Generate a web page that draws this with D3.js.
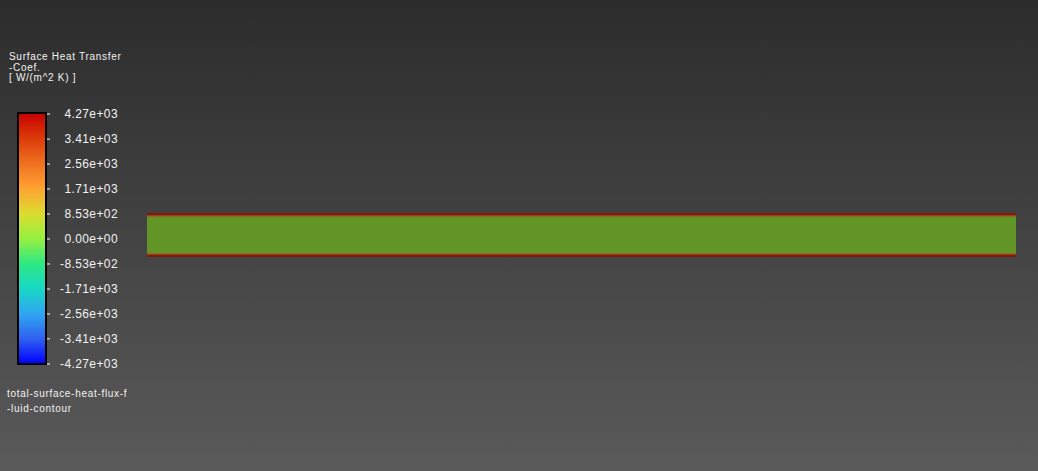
<!DOCTYPE html>
<html>
<head>
<meta charset="utf-8">
<script src="https://cdn.jsdelivr.net/npm/d3@7"></script>
<style>
  html, body { margin: 0; padding: 0; background: #3a3a3a; overflow: hidden; }
  svg { display: block; }
  text { font-family: "Liberation Sans", Arial, sans-serif; fill: #f2f2f2; }
</style>
</head>
<body>
<svg id="view"></svg>
<script>
// Contour legend + flat channel wall coloured by surface heat transfer coef.

const W = 1038, H = 471;

// legend data
const titleLines = ["Surface Heat Transfer", "-Coef.", "[ W/(m^2 K) ]"];
const footerLines = ["total-surface-heat-flux-f", "-luid-contour"];
const tickValues = [4270, 3410, 2560, 1710, 853, 0, -853, -1710, -2560, -3410, -4270];
const tickLabels = ["4.27e+03", "3.41e+03", "2.56e+03", "1.71e+03", "8.53e+02", "0.00e+00",
                    "-8.53e+02", "-1.71e+03", "-2.56e+03", "-3.41e+03", "-4.27e+03"];
// colormap stops, from min to max
const cmapStops = ["#0000ff", "#3060f2", "#30a6f0", "#18d8c6", "#2ee882", "#96f040",
                   "#dcdc30", "#ffa232", "#f07020", "#dc3a0a", "#c80000"];

// geometry of the wall strip (channel length / height, metres)
const channelLength = [0, 1.0];
const channelHeight = [0, 0.05];
// contour bands across the height: [from, to, colour]
const wallBands = [
  [0.0000, 0.0022, "#7a1a10"],
  [0.0022, 0.0034, "#a83a14"],
  [0.0034, 0.0046, "#8a6a22"],
  [0.0046, 0.0454, "#619627"],
  [0.0454, 0.0466, "#8a6a22"],
  [0.0466, 0.0478, "#a83a14"],
  [0.0478, 0.0500, "#7a1a10"]
];

const svg = d3.select("#view").attr("width", W).attr("height", H);
const defs = svg.append("defs");

// background gradient, dark at top
const bg = defs.append("linearGradient").attr("id", "bg")
  .attr("x1", 0).attr("y1", 0).attr("x2", 0).attr("y2", 1);
bg.append("stop").attr("offset", "0%").attr("stop-color", "#2c2c2c");
bg.append("stop").attr("offset", "100%").attr("stop-color", "#5a5a5a");
svg.append("rect").attr("width", W).attr("height", H).attr("fill", "url(#bg)");

/*
** Colour bar
*/
const bar = { x: 18, y: 113, w: 28, h: 251 };
const valueScale = d3.scaleLinear()
  .domain([d3.min(tickValues), d3.max(tickValues)])
  .range([bar.y + bar.h, bar.y + 1]);

const cg = defs.append("linearGradient").attr("id", "cmap")
  .attr("x1", 0).attr("y1", 1).attr("x2", 0).attr("y2", 0);
cg.selectAll("stop").data(cmapStops).enter().append("stop")
  .attr("offset", (d, i) => (i / (cmapStops.length - 1) * 100) + "%")
  .attr("stop-color", d => d);

svg.append("rect")
  .attr("x", bar.x).attr("y", bar.y)
  .attr("width", bar.w).attr("height", bar.h)
  .attr("fill", "url(#cmap)")
  .attr("stroke", "#000").attr("stroke-width", 2);

const ticks = svg.append("g").attr("class", "ticks");
ticks.selectAll("line").data(tickValues).enter().append("line")
  .attr("x1", bar.x + bar.w + 1).attr("x2", bar.x + bar.w + 4)
  .attr("y1", d => valueScale(d)).attr("y2", d => valueScale(d))
  .attr("stroke", "#e0e0e0").attr("stroke-width", 1.2);

ticks.selectAll("text").data(tickValues).enter().append("text")
  .attr("x", 118)
  .attr("y", d => valueScale(d))
  .attr("dy", "0.36em")
  .attr("text-anchor", "end")
  .attr("font-size", 12)
  .attr("letter-spacing", 0.4)
  .text((d, i) => tickLabels[i]);

// title + footer
svg.append("g").selectAll("text").data(titleLines).enter().append("text")
  .attr("x", 9).attr("y", (d, i) => 60 + i * 10.6)
  .attr("font-size", 10).attr("letter-spacing", 0.7)
  .text(d => d);

svg.append("g").selectAll("text").data(footerLines).enter().append("text")
  .attr("x", 7).attr("y", (d, i) => 397 + i * 15)
  .attr("font-size", 10).attr("letter-spacing", 0.7)
  .text(d => d);

/*
** Wall contour strip
*/
const xScale = d3.scaleLinear().domain(channelLength).range([147, 1016]);
const yScale = d3.scaleLinear().domain(channelHeight).range([213, 257]);

svg.append("g").attr("class", "wall")
  .selectAll("rect").data(wallBands).enter().append("rect")
  .attr("x", xScale(channelLength[0]))
  .attr("width", xScale(channelLength[1]) - xScale(channelLength[0]))
  .attr("y", d => yScale(d[0]))
  .attr("height", d => yScale(d[1]) - yScale(d[0]))
  .attr("fill", d => d[2])
  .attr("shape-rendering", "crispEdges");
</script>
</body>
</html>
